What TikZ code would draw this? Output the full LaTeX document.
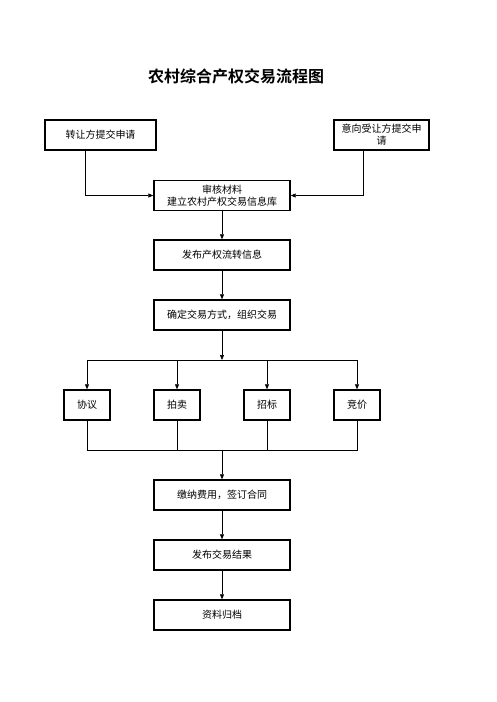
\documentclass[tikz,border=0pt]{standalone}
\usepackage{fontspec}
\usepackage{tikz}
\usetikzlibrary{arrows.meta,positioning}
\newfontfamily\cjk{Noto Sans CJK SC}[BoldFont={Noto Sans CJK SC Bold}]
\tikzset{
    flowbox/.style={draw=black, line width=1.4pt, fill=white, minimum width=136pt, minimum height=30pt, inner sep=2pt, align=center, font=\cjk\fontsize{10}{12}\selectfont},
    waybox/.style={flowbox, minimum width=46pt},
    link/.style={line width=0.7pt, -{Triangle[length=5pt,width=4pt]}},
    joint/.style={line width=0.7pt}
}

\begin{document}
\begin{tikzpicture}[x=1pt,y=-1pt]
    \useasboundingbox (0,0) rectangle (496,702);

    \node[font=\cjk\bfseries\fontsize{16}{18}\selectfont] (title) at (236,76) {农村综合产权交易流程图};

    % applications
    \node[flowbox, minimum width=111pt] (seller) at (100.5,135) {转让方提交申请};
    \node[flowbox, minimum width=95pt] (buyer) at (381.5,135) {意向受让方提交申\\请};

    % main column
    \node[flowbox] (review) at (222,195.5) {审核材料\\建立农村产权交易信息库};
    \node[flowbox] (publish) at (222,255) {发布产权流转信息};
    \node[flowbox] (decide) at (222,315) {确定交易方式，组织交易};

    % trading ways
    \node[waybox] (agree) at (87,405) {协议};
    \node[waybox] (auction) at (177,405) {拍卖};
    \node[waybox] (tender) at (267,405) {招标};
    \node[waybox] (bid) at (357,405) {竞价};

    \node[flowbox] (pay) at (222,495) {缴纳费用，签订合同};
    \node[flowbox] (result) at (222,555) {发布交易结果};
    \node[flowbox] (archive) at (222,615) {资料归档};

    \coordinate (split) at (222,360);
    \coordinate (merge) at (222,450);

    \draw[link] (seller.south -| 85,0) |- (review.west);
    \draw[link] (buyer.south -| 363,0) |- (review.east);
    \draw[link] (review) -- (publish);
    \draw[link] (publish) -- (decide);
    \draw[link] (decide) -- (split);
    \foreach \w in {agree,auction,tender,bid} {
        \draw[link] (split) -| (\w.north);
        \draw[joint] (\w.south) |- (merge);
    }
    \draw[link] (merge) -- (pay);
    \draw[link] (pay) -- (result);
    \draw[link] (result) -- (archive);
\end{tikzpicture}
\end{document}
